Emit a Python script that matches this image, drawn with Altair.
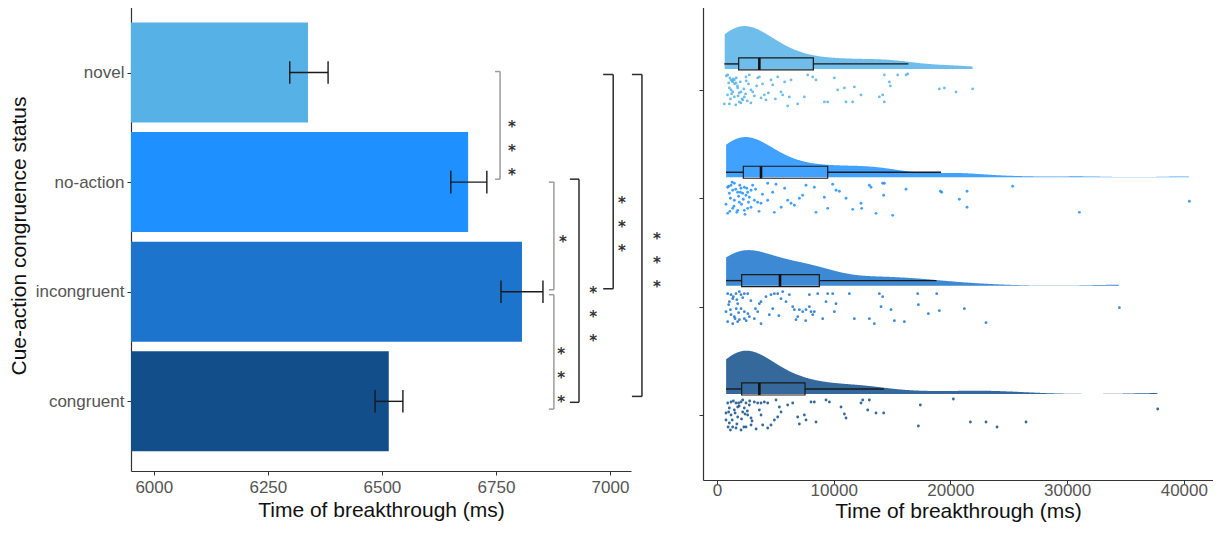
import altair as alt
import pandas as pd

# ---------------- data ----------------
categories = ["novel", "no-action", "incongruent", "congruent"]
positions = [4, 3, 2, 1]
colors = ["#56B1E6", "#1E90FF", "#1C74CC", "#124E8A"]

# left panel: mean time of breakthrough and error bar limits (ms)
mean_ms = [6338, 6689, 6807, 6515]
err_lo = [6298, 6651, 6761, 6485]
err_hi = [6382, 6730, 6853, 6546]

# significance brackets (x in ms, y in category position units)
br_x = [6759, 6877, 6877, 6932, 7007, 7070]
br_tick = [6748, 6866, 6866, 6912, 6985, 7048]
br_y1 = [4.009, 3.0, 1.973, 3.027, 3.982, 3.982]
br_y2 = [3.027, 2.018, 0.929, 0.991, 2.027, 1.045]
br_kind = ["light", "light", "light", "dark", "dark", "dark"]
star_x = [6785, 6897, 6893, 6963, 7026, 7103]
star_y = [3.536, 2.49, 1.464, 2.027, 2.848, 2.518]
star_label = ["***", "*", "***", "***", "***", "***"]

# right panel: box statistics (ms)
box_q1 = [1857, 2257, 2114, 2114]
box_med = [3628, 3771, 5399, 3628]
box_q3 = [8256, 9484, 8770, 7542]
whisk_lo = [628, 771, 771, 771]
whisk_hi = [16396, 19196, 18800, 14300]

# right panel: individual observations (ms) and their vertical jitter (px)
novel_ms = [914, 1200, 1343, 1485, 1628, 1057, 1200, 1771, 2057, 2342, 2200, 1914, 1485, 1057, 628,
            2485, 2771, 2914, 3056, 3485, 3628, 3771, 4056, 4199, 4628, 4771, 5199, 5485, 5628, 6056,
            6199, 6342, 6913, 7485, 7770, 8199, 8484, 9199, 9484, 10055, 10341, 10912, 11055, 11626,
            11769, 12340, 13911, 14197, 14340, 14340, 14768, 14854, 15482, 16196, 16339, 19053, 19481,
            20481, 21909,
            800, 1100, 1300, 1400, 1500, 1650, 1750, 1900, 2000, 2150, 2300, 2450, 2600, 2700, 900,
            1150, 1350, 1600, 1800, 2050, 2500, 3200, 3400, 1000, 1250, 2900, 3900, 4400, 5000, 5800]
novel_jit = [-15, -10, -8, -10, -7, -2, 0, -2, 2, 7, 10, 12, 7, 14, 14,
             -13, -15, 0, 2, -12, -13, 8, 5, 10, -10, -5, -13, 2, 5, 16,
             7, -10, 14, 7, -15, -13, -10, 12, 12, -12, 0, -2, 12, 12,
             -3, 5, 7, 5, 12, -15, -8, -4, -15, -15, -16, -1, -2,
             2, -1,
             -14, -12, -9, -11, -6, -12, -4, 3, -8, 9, -1, 4, 11, -6, 5,
             9, 2, 15, 6, 13, -9, 6, -4, -7, 4, 13, -6, 3, 9, -8]

noaction_ms = [914, 1200, 1485, 1343, 1057, 1771, 2057, 2342, 2200, 2628, 2914, 2771, 3199, 3485, 3771,
               2914, 2628, 2342, 1771, 1343, 914, 771, 1485, 1914, 2485, 3056, 4342, 5056, 4771, 4342,
               4914, 6056, 6342, 6628, 7056, 7342, 7627, 8341, 8484, 9199, 9484, 9912, 10198, 10484,
               11055, 11626, 12340, 12397, 13054, 13197, 13625, 14197, 14340, 14283, 15054, 16196,
               19139, 19253, 20767, 21424, 21424, 25338, 31051, 40478,
               1000, 1150, 1300, 1450, 1600, 1700, 1850, 1950, 2100, 2250, 2400, 2550, 2700, 3300,
               3600, 3900, 5500, 5800, 1100, 2000]
noaction_jit = [-11, -13, -15, -8, -5, -6, -10, -11, -5, -6, -8, -1, 2, 4, 5,
                9, 10, 12, 12, 10, 15, 6, 2, 4, -3, -13, -15, -14, -6, 2,
                14, 2, 5, 7, 0, -3, -13, -11, 14, -1, 10, -14, -8, -7,
                0, 11, 5, 10, -13, -11, 15, -15, -15, -3, 17, -9,
                -7, -6, 1, -7, 9, -12, 14, 3,
                -12, 0, -16, 8, -9, 14, -2, -13, 6, 1, 16, -10, 4, -9,
                13, -4, 9, -10, 13, -6]

incong_ms = [914, 1200, 1343, 1628, 1914, 2057, 2342, 2628, 1057, 1771, 2057, 2342, 771, 1200, 1485,
             1771, 1343, 914, 1914, 2342, 2771, 3199, 3485, 3628, 3771, 3771, 4485, 4771, 4628, 4914,
             5199, 5485, 5628, 5913, 6485, 6628, 6770, 6913, 7056, 7342, 7627, 7913, 8056, 8199, 8341,
             7913, 8627, 9055, 9341, 9484, 9912, 10055, 10198, 11340, 11769, 13054, 13482, 13911,
             14197, 14054, 14911, 15196, 16053, 17196, 17253, 18110, 18824, 19053, 21195, 23052, 34479,
             1000, 1150, 1400, 1550, 1700, 1850, 2200, 2500, 2900, 3300, 4200, 5300, 6200, 7600, 1650, 2650]
incong_jit = [-13, -12, -8, -13, -15, -12, -13, -13, -5, -3, 2, 5, 5, 8, 10,
              15, 17, 15, 13, 12, 10, 12, 5, -3, -5, 17, 8, 2, -12, -13,
              -13, -8, -15, -5, 0, 3, 13, 10, 3, 5, 3, 0, 5, 8, 5,
              -12, -13, 12, -5, -13, -13, 5, -3, -13, 12, 12, 17, -13,
              -10, 0, 3, 14, 15, -13, -2, 7, -13, 4, 2, 16, 1,
              -2, 3, -10, 12, -7, 6, -9, 14, -6, 2, -10, 9, -12, 14, 2, 7]

cong_ms = [914, 1200, 1628, 2057, 2200, 2485, 2771, 3199, 3485, 3771, 4056, 4342, 1057, 1485, 1771,
           2342, 771, 1200, 1771, 2200, 2628, 2914, 771, 1057, 1343, 1628, 2057, 2485, 2914, 3628,
           3771, 3913, 4342, 4628, 4914, 5199, 5342, 5485, 5056, 6056, 6485, 6913, 7056, 7485, 7627,
           8056, 8341, 8484, 9341, 9627, 10626, 10912, 11055, 12340, 12483, 13054, 12911, 13625,
           14283, 17424, 17253, 20253, 21710, 23052, 23995, 26480, 37763,
           1000, 1300, 1400, 1550, 1700, 1900, 2100, 2300, 2600, 2800, 3000, 3350, 1150, 1850, 2400, 950]
cong_jit = [-12, -13, -12, -13, -15, -12, -10, -13, -12, -12, -13, -12, -7, -5, -8,
            -7, -2, 0, 2, -3, 0, 3, 5, 8, 12, 13, 15, 12, 10, -5,
            0, 10, 13, 10, 5, 2, -8, -3, -15, -10, -12, 2, 9, 0, 5,
            -13, -13, 7, -15, -13, -8, -1, 3, -12, -15, -15, -5, -2,
            -2, -10, 11, -16, 7, 7, 12, 7, -6,
            -3, 5, -14, -2, 9, -9, 4, 12, -4, -14, 6, 14, 15, -12, -1, 12]

# ---------------- tables ----------------
pos_of = dict(zip(categories, positions))
bars = pd.DataFrame({"group": categories, "pos": positions, "mean": mean_ms,
                     "lo": err_lo, "hi": err_hi})
brackets = pd.DataFrame({"x": br_x, "xt": br_tick, "y1": br_y1, "y2": br_y2, "kind": br_kind})
br_ticks = pd.concat([
    pd.DataFrame({"x": br_x, "xt": br_tick, "y": br_y1, "kind": br_kind}),
    pd.DataFrame({"x": br_x, "xt": br_tick, "y": br_y2, "kind": br_kind}),
])
stars = pd.DataFrame({"x": star_x, "y": star_y,
                      "label": ["\n".join(list(s)) for s in star_label]})

boxes = pd.DataFrame({"group": categories, "pos": positions, "q1": box_q1, "med": box_med,
                      "q3": box_q3, "wlo": whisk_lo, "whi": whisk_hi})
pts = pd.concat([
    pd.DataFrame({"group": g, "pos": pos_of[g], "ms": m, "jit": j})
    for g, m, j in [("novel", novel_ms, novel_jit), ("no-action", noaction_ms, noaction_jit),
                    ("incongruent", incong_ms, incong_jit), ("congruent", cong_ms, cong_jit)]
], ignore_index=True)

FONT = "Liberation Sans"
color_scale = alt.Scale(domain=categories, range=colors)
kind_scale = alt.Scale(domain=["light", "dark"], range=["#9c9c9c", "#2b2b2b"])

label_expr = " : ".join(f"datum.value == {p} ? '{c}'" for c, p in zip(categories, positions)) + " : ''"

# ---------------- left panel ----------------
xl = alt.Scale(domain=[5950, 7046], zero=False, nice=False)
yl = alt.Scale(domain=[0.41, 4.616], nice=False, zero=False)

y_axis_left = alt.Axis(values=[1, 2, 3, 4], labelExpr=label_expr,
                       title="Cue-action congruence status", grid=False,
                       labelFontSize=17, titleFontSize=21, labelPadding=3, titlePadding=6)
x_axis_left = alt.Axis(values=[6000, 6250, 6500, 6750, 7000], format="d",
                       title="Time of breakthrough (ms)", grid=False,
                       labelPadding=4, titlePadding=4)

base_l = alt.Chart(bars)
bar_l = base_l.mark_bar(orient="horizontal", size=100, clip=True).encode(
    x=alt.X("mean:Q", scale=xl, axis=x_axis_left, stack=None),
    y=alt.Y("pos:Q", scale=yl, axis=y_axis_left),
    color=alt.Color("group:N", scale=color_scale, legend=None),
)
err_l = base_l.mark_rule(color="#1a1a1a", strokeWidth=1.4).encode(
    x="lo:Q", x2="hi:Q", y="pos:Q")
cap_lo = base_l.transform_calculate(a="datum.pos - 0.103", b="datum.pos + 0.103").mark_rule(
    color="#1a1a1a", strokeWidth=1.4).encode(x="lo:Q", y="a:Q", y2="b:Q")
cap_hi = base_l.transform_calculate(a="datum.pos - 0.103", b="datum.pos + 0.103").mark_rule(
    color="#1a1a1a", strokeWidth=1.4).encode(x="hi:Q", y="a:Q", y2="b:Q")

br_v = alt.Chart(brackets).mark_rule(strokeWidth=1.5).encode(
    x="x:Q", y="y1:Q", y2="y2:Q",
    color=alt.Color("kind:N", scale=kind_scale, legend=None))
br_h = alt.Chart(br_ticks).mark_rule(strokeWidth=1.5).encode(
    x="xt:Q", x2="x:Q", y="y:Q",
    color=alt.Color("kind:N", scale=kind_scale, legend=None))
star_t = alt.Chart(stars).mark_text(font="DejaVu Sans", fontSize=15, fontWeight="bold",
                                    color="#333333", lineBreak="\n", lineHeight=24,
                                    baseline="middle", dy=4).encode(
    x="x:Q", y="y:Q", text="label:N")

left = alt.layer(bar_l, err_l, cap_lo, cap_hi, br_v, br_h, star_t).resolve_scale(
    color="independent").properties(width=500, height=471)

# ---------------- right panel ----------------
RSTEP = 108.3
xr = alt.Scale(domain=[-1200, 42500], zero=False, nice=False)
yr = alt.Scale(domain=[0.4, 4.83], nice=False, zero=False)
x_axis_right = alt.Axis(values=[0, 10000, 20000, 30000, 40000], format="d",
                        title="Time of breakthrough (ms)", grid=False,
                        labelPadding=-2, titlePadding=2)
y_axis_right = alt.Axis(values=[1, 2, 3, 4], labels=False, title=None, grid=False)

BASE_OFF = 21 / RSTEP
BOX_OFF = 26 / RSTEP
BOX_HALF = 6 / RSTEP
K = 3800

dens = alt.Chart(pts).transform_joinaggregate(
    vmin="min(ms)", vmax="max(ms)", groupby=["group"]
).transform_density(
    "ms", groupby=["group", "pos", "vmin", "vmax"], bandwidth=2200,
    extent=[0, 42000], steps=700, as_=["v", "density"]
).transform_filter(
    "datum.v >= datum.vmin && datum.v <= datum.vmax"
).transform_calculate(
    base=f"datum.pos + {BASE_OFF}", top=f"datum.pos + {BASE_OFF} + datum.density * {K}"
).mark_area(opacity=0.85).encode(
    x=alt.X("v:Q", scale=xr, axis=x_axis_right),
    y=alt.Y("top:Q", scale=yr, axis=y_axis_right),
    y2="base:Q",
    color=alt.Color("group:N", scale=color_scale, legend=None),
    detail="group:N",
)

bx = alt.Chart(boxes).transform_calculate(
    c=f"datum.pos + {BOX_OFF}", a=f"datum.pos + {BOX_OFF} - {BOX_HALF}",
    b=f"datum.pos + {BOX_OFF} + {BOX_HALF}")
wl = bx.mark_rule(color="#1a1a1a", strokeWidth=1.4).encode(x="wlo:Q", x2="q1:Q", y="c:Q")
wh = bx.mark_rule(color="#1a1a1a", strokeWidth=1.4).encode(x="q3:Q", x2="whi:Q", y="c:Q")
box_r = bx.mark_rect(stroke="#1a1a1a", strokeWidth=1.2, fillOpacity=0.0).encode(
    x="q1:Q", x2="q3:Q", y="a:Q", y2="b:Q")
med_r = bx.mark_rule(color="#111111", strokeWidth=2.6).encode(x="med:Q", y="a:Q", y2="b:Q")

pt = alt.Chart(pts).transform_calculate(
    yy=f"datum.pos - datum.jit / {RSTEP}"
).mark_circle(size=8, opacity=0.85).encode(
    x="ms:Q", y="yy:Q",
    color=alt.Color("group:N", scale=color_scale, legend=None))

right = alt.layer(dens, wl, wh, box_r, med_r, pt).properties(width=510, height=480)

chart = alt.hconcat(left, right, spacing=72, bounds="flush").properties(
    padding={"left": 0, "top": -8, "right": 0, "bottom": 12}
).configure_view(stroke=None).configure_axis(
    domainColor="#333333", domainWidth=1.2, tickColor="#333333", tickSize=4,
    labelColor="#555555", labelFont=FONT, titleFont=FONT, labelFontSize=17,
    titleFontSize=21, titleColor="#111111", titleFontWeight="normal"
)

chart.save("out.html", embed_options={"renderer": "svg", "actions": False})
